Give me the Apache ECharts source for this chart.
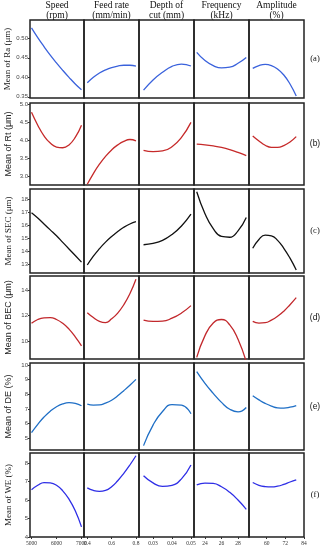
<!DOCTYPE html>
<html><head><meta charset="utf-8">
<script src="https://cdn.jsdelivr.net/npm/echarts@6/dist/echarts.min.js"></script>
<style>html,body{margin:0;padding:0;background:#fff}#c{width:324px;height:550px}</style>
</head><body><div id="c"></div>
<script>
// ---------- data ----------
const factors = ['Speed\n(rpm)', 'Feed rate\n(mm/min)', 'Depth of\ncut (mm)', 'Frequency\n(kHz)', 'Amplitude\n(%)'];
const rowTags = ['(a)', '(b)', '(c)', '(d)', '(e)', '(f)'];
const responses = ['Mean of Ra (μm)', 'Mean of Rt (μm)', 'Mean of SEC (μm)', 'Mean of BEC (μm)', 'Mean of DE (%)', 'Mean of WE (%)'];

const speedX = [5000, 5250, 5500, 5750, 6000, 6250, 6500, 6750, 7000];
const feedX = [0.4, 0.45, 0.5, 0.55, 0.6, 0.65, 0.7, 0.75, 0.8];
const depthX = [0.025, 0.03, 0.035, 0.04, 0.045, 0.05];
const freqX = [23, 24, 25, 26, 27, 28, 29];
const ampX = [51, 55, 59, 63, 67, 71, 75, 79];

const xTickSpeed = [5000, 6000, 7000];
const xTickFeed = [0.4, 0.6, 0.8];
const xTickDepth = [0.03, 0.04, 0.05];
const xTickFreq = [24, 26, 28];
const xTickAmp = [60, 72, 84];

const yTickRa = [0.35, 0.40, 0.45, 0.50];
const yTickRt = [3.0, 3.5, 4.0, 4.5, 5.0];
const yTickSEC = [13, 14, 15, 16, 17, 18];
const yTickBEC = [10, 12, 14];
const yTickDE = [5, 6, 7, 8, 9, 10];
const yTickWE = [4, 5, 6, 7, 8];

// (a) Ra
const raSpeed = [0.527, 0.502, 0.479, 0.457, 0.437, 0.418, 0.400, 0.383, 0.368];
const raFeed = [0.386, 0.400, 0.411, 0.419, 0.425, 0.429, 0.431, 0.431, 0.429];
const raDepth = [0.367, 0.393, 0.413, 0.428, 0.434, 0.429];
const raFreq = [0.464, 0.443, 0.430, 0.424, 0.426, 0.436, 0.451];
const raAmp = [0.423, 0.430, 0.433, 0.430, 0.421, 0.406, 0.383, 0.352];
// (b) Rt
const rtSpeed = [4.78, 4.42, 4.12, 3.92, 3.81, 3.79, 3.87, 4.08, 4.42];
const rtFeed = [2.77, 3.07, 3.33, 3.55, 3.73, 3.87, 3.97, 4.02, 3.98];
const rtDepth = [3.72, 3.68, 3.70, 3.82, 4.08, 4.50];
const rtFreq = [3.89, 3.87, 3.84, 3.80, 3.74, 3.66, 3.57];
const rtAmp = [4.12, 3.98, 3.86, 3.80, 3.80, 3.85, 3.95, 4.10];
// (c) SEC
const secSpeed = [16.95, 16.55, 16.1, 15.65, 15.2, 14.7, 14.2, 13.7, 13.2];
const secFeed = [12.98, 13.65, 14.22, 14.72, 15.15, 15.52, 15.85, 16.1, 16.27];
const secDepth = [14.52, 14.62, 14.85, 15.3, 15.95, 16.85];
const secFreq = [18.55, 16.88, 15.74, 15.15, 15.09, 15.58, 16.6];
const secAmp = [14.25, 14.92, 15.25, 15.2, 14.85, 14.25, 13.5, 12.6];
// (d) BEC
const becSpeed = [11.4, 11.7, 11.83, 11.85, 11.7, 11.4, 10.95, 10.35, 9.65];
const becFeed = [12.23, 11.85, 11.55, 11.45, 11.75, 12.2, 12.85, 13.7, 14.83];
const becDepth = [11.65, 11.55, 11.57, 11.8, 12.2, 12.78];
const becFreq = [8.75, 10.44, 11.42, 11.7, 11.28, 10.16, 8.4];
const becAmp = [11.55, 11.42, 11.45, 11.65, 11.95, 12.35, 12.85, 13.4];
// (e) DE
const deSpeed = [5.38, 5.95, 6.45, 6.85, 7.15, 7.35, 7.43, 7.38, 7.22];
const deFeed = [7.33, 7.27, 7.28, 7.4, 7.6, 7.9, 8.25, 8.62, 9.02];
const deDepth = [4.5, 5.9, 6.83, 7.3, 7.27, 6.68];
const deFreq = [9.55, 8.75, 8.07, 7.45, 6.98, 6.8, 7.1];
const deAmp = [7.9, 7.62, 7.38, 7.2, 7.08, 7.06, 7.12, 7.23];
// (f) WE
const weSpeed = [6.56, 6.8, 6.95, 6.93, 6.8, 6.5, 6.05, 5.42, 4.55];
const weFeed = [6.66, 6.52, 6.47, 6.52, 6.72, 7.05, 7.45, 7.9, 8.4];
const weDepth = [7.32, 6.93, 6.74, 6.8, 7.15, 7.9];
const weFreq = [6.82, 6.92, 6.9, 6.72, 6.42, 6.0, 5.5];
const weAmp = [6.95, 6.8, 6.73, 6.71, 6.75, 6.85, 6.98, 7.1];

// ---------- assembly ----------
const xs = [speedX, feedX, depthX, freqX, ampX];
const xTicks = [xTickSpeed, xTickFeed, xTickDepth, xTickFreq, xTickAmp];
const yTicks = [yTickRa, yTickRt, yTickSEC, yTickBEC, yTickDE, yTickWE];
const rowsData = [
  [raSpeed, raFeed, raDepth, raFreq, raAmp],
  [rtSpeed, rtFeed, rtDepth, rtFreq, rtAmp],
  [secSpeed, secFeed, secDepth, secFreq, secAmp],
  [becSpeed, becFeed, becDepth, becFreq, becAmp],
  [deSpeed, deFeed, deDepth, deFreq, deAmp],
  [weSpeed, weFeed, weDepth, weFreq, weAmp]
];

// layout / style
const colL = [30, 84, 139, 194, 249], colR = [84, 139, 194, 249, 304];
const rowT = [20, 103, 189, 276, 363, 453], rowB = [98, 185, 273, 359, 450, 537];
const xRange = [[4940, 7100], [0.373, 0.825], [0.0226, 0.0516], [22.67, 29.33], [48.6, 84]];
const yRange = [[0.347, 0.547], [2.75, 5.04], [12.37, 18.76], [8.62, 15.09], [4.2, 10.14], [4.0, 8.55]];
const yDec = [2, 1, 0, 0, 0, 0];
const xDec = [0, 1, 2, 0, 0];
const lineColors = ['#3a62dc', '#c62a2a', '#111111', '#c2282c', '#1f6fc6', '#2e2ee6'];
const nameFonts = ['Liberation Serif', 'Liberation Sans', 'Liberation Serif', 'Liberation Sans', 'Liberation Sans', 'Liberation Serif'];
const tagFonts = nameFonts;

const grid = [], xAxis = [], yAxis = [], series = [], graphic = [];
for (let r = 0; r < 6; r++) {
  for (let c = 0; c < 5; c++) {
    const i = r * 5 + c;
    grid.push({left: colL[c], top: rowT[r], width: colR[c] - colL[c], height: rowB[r] - rowT[r],
      show: true, borderColor: '#222', borderWidth: 1.5, containLabel: false});
    const bottom = r === 5;
    xAxis.push({type: 'value', gridIndex: i, min: xRange[c][0], max: xRange[c][1],
      axisLine: {show: false}, splitLine: {show: false},
      axisTick: {show: bottom, customValues: xTicks[c], length: 2, lineStyle: {color: '#333'}},
      axisLabel: {show: bottom, customValues: xTicks[c], fontSize: 5.5, margin: 4, color: '#333',
        fontFamily: 'Liberation Serif', formatter: v => Number(v).toFixed(xDec[c])}});
    const left = c === 0;
    yAxis.push({type: 'value', gridIndex: i, min: yRange[r][0], max: yRange[r][1],
      axisLine: {show: false}, splitLine: {show: false},
      axisTick: {show: left, customValues: yTicks[r], length: 2, lineStyle: {color: '#333'}},
      axisLabel: {show: left, customValues: yTicks[r], fontSize: 6, margin: 2, color: '#444',
        fontFamily: 'Liberation Sans', formatter: v => Number(v).toFixed(yDec[r])},
      name: left ? responses[r] : '', nameLocation: 'middle', nameGap: 17, nameRotate: 90,
      nameTextStyle: {fontSize: 9, color: '#222', fontFamily: nameFonts[r]}});
    series.push({type: 'line', xAxisIndex: i, yAxisIndex: i, smooth: true, showSymbol: false,
      symbol: 'none', clip: true, silent: true, animation: false,
      lineStyle: {color: lineColors[r], width: 1.3},
      data: xs[c].map((x, k) => [x, rowsData[r][c][k]])});
  }
  graphic.push({type: 'text', x: 315, y: (rowT[r] + rowB[r]) / 2,
    style: {text: rowTags[r], textAlign: 'center', textVerticalAlign: 'middle', fontSize: 8.5,
      fontFamily: tagFonts[r], fill: '#111'}});
}
for (let c = 0; c < 5; c++) {
  graphic.push({type: 'text', x: (colL[c] + colR[c]) / 2, y: 1,
    style: {text: factors[c], textAlign: 'center', fontSize: 9.5, lineHeight: 9.5,
      fontFamily: 'Liberation Serif', fill: '#111'}});
}

const chart = echarts.init(document.getElementById('c'), null, {renderer: 'canvas'});
chart.setOption({backgroundColor: '#fff', animation: false, grid, xAxis, yAxis, series, graphic});
</script></body></html>
